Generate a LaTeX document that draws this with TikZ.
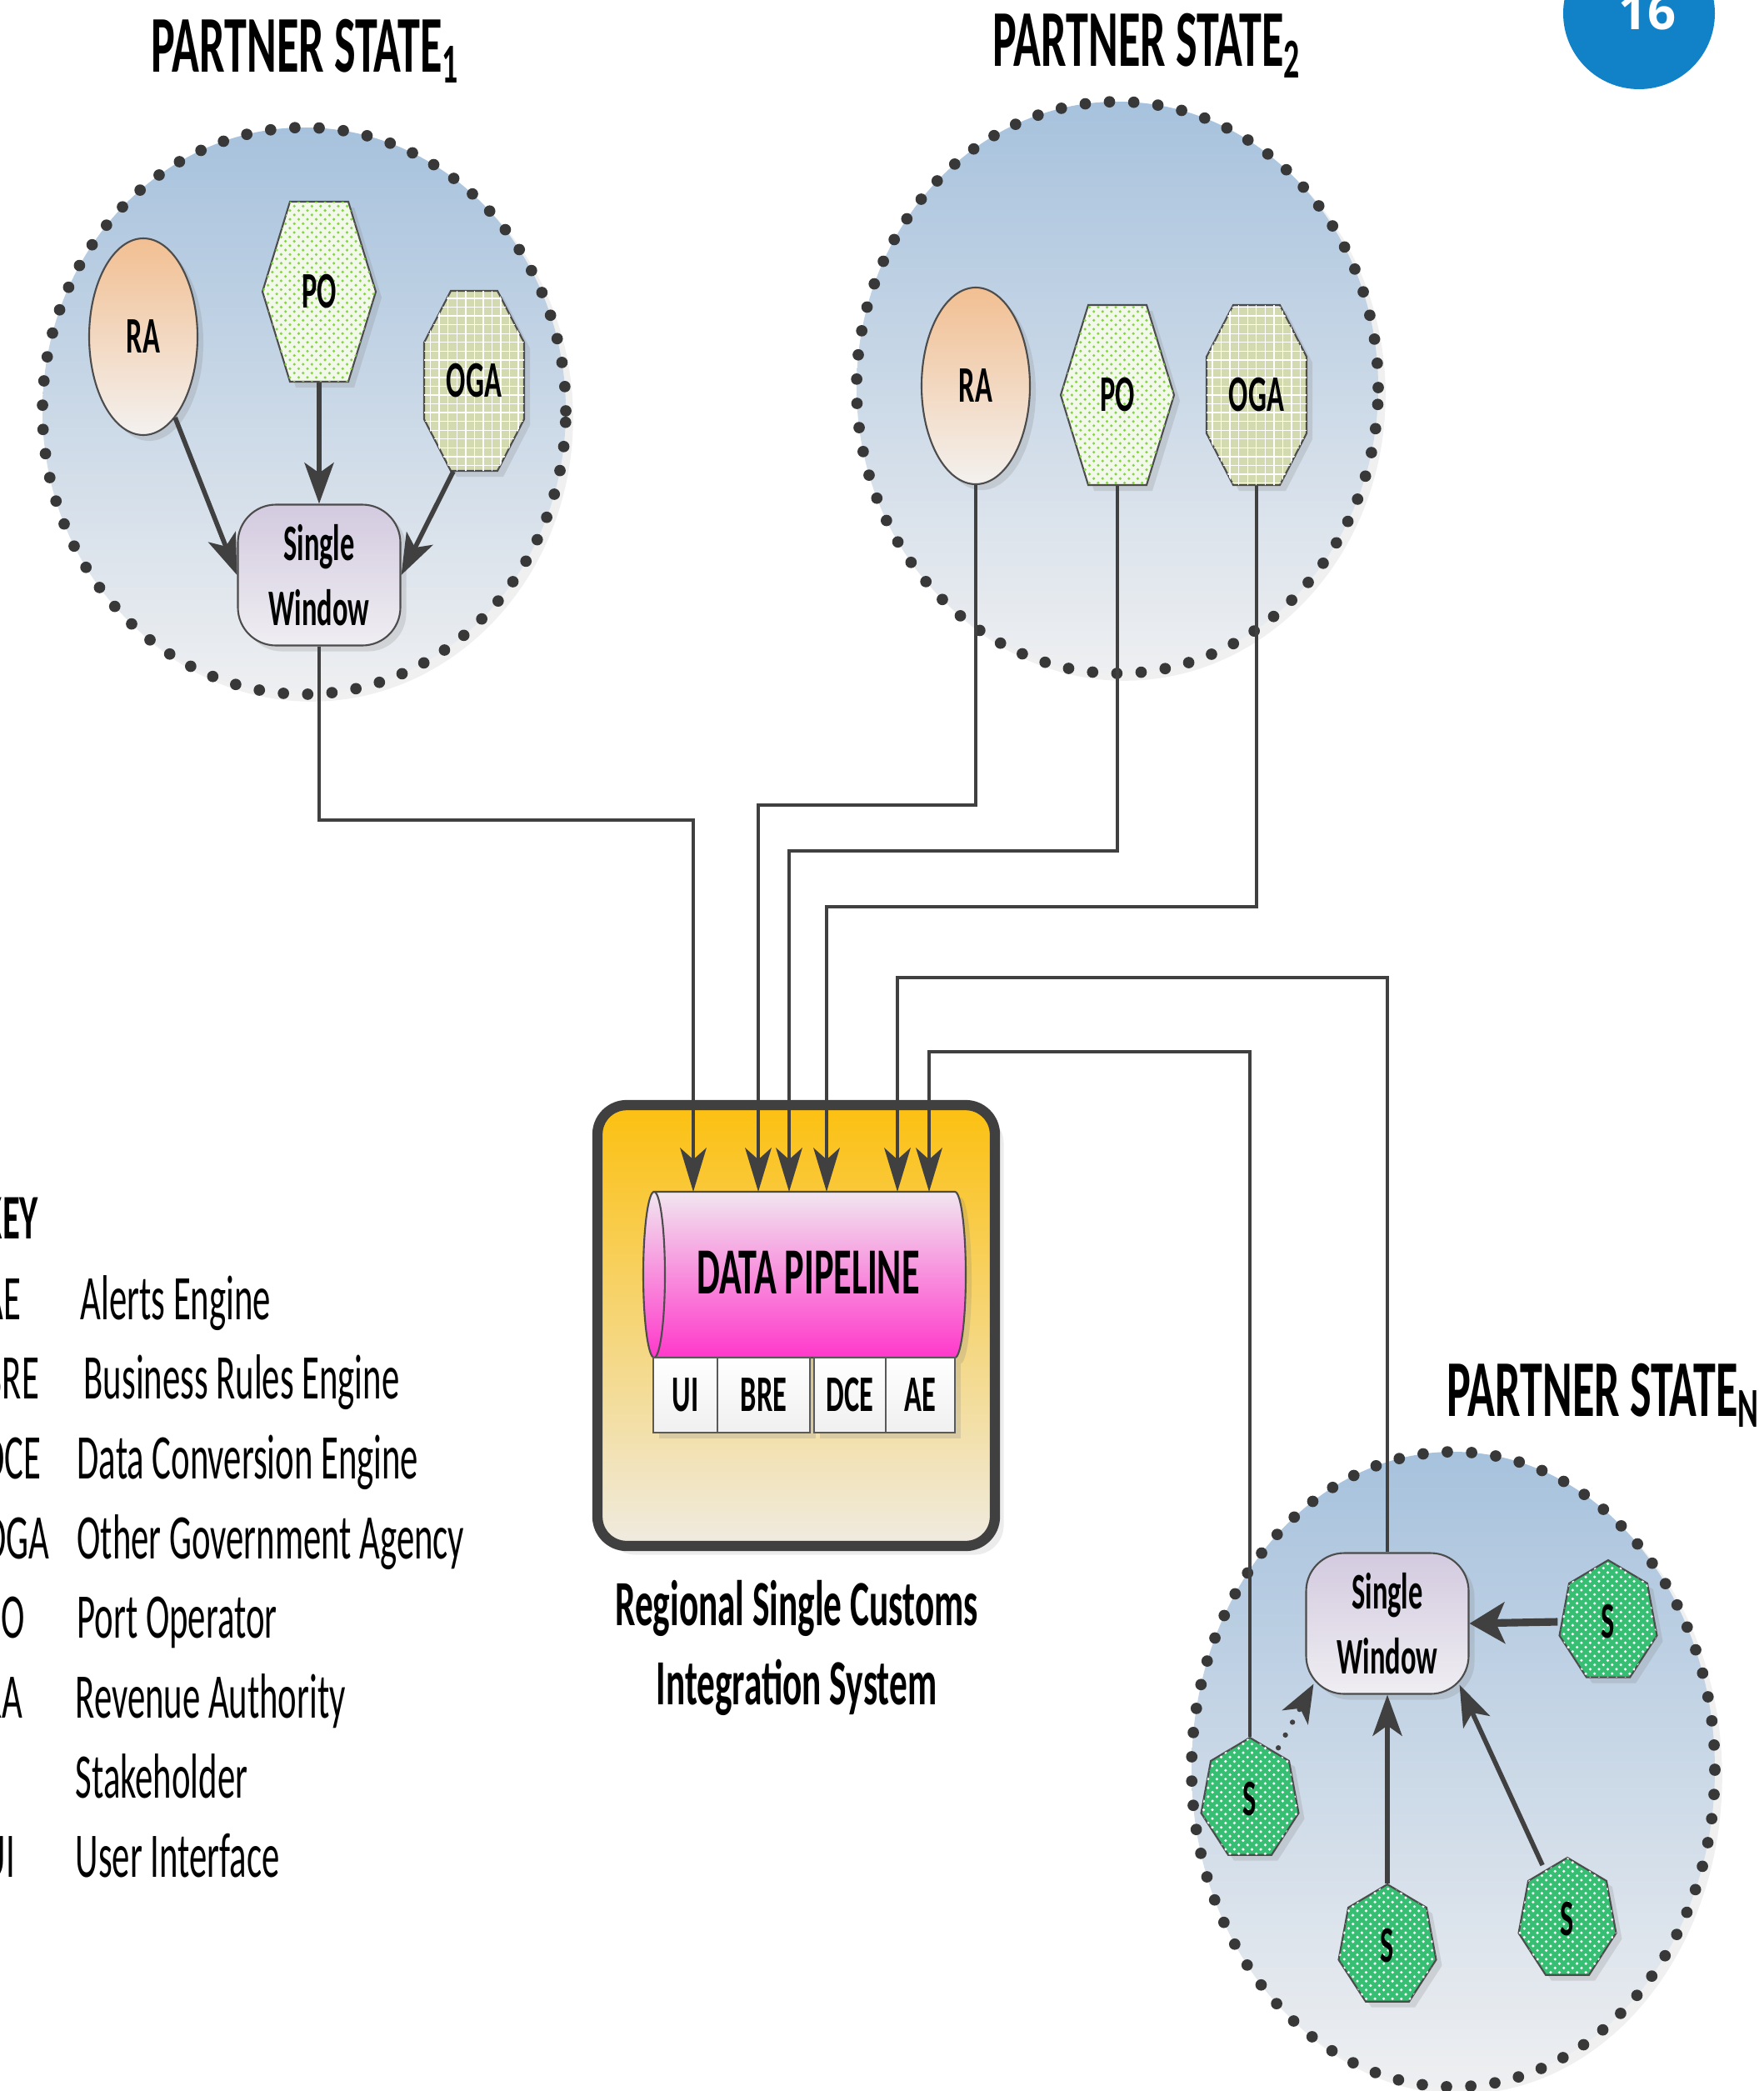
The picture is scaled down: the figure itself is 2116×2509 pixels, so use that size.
\documentclass[tikz,border=0pt]{standalone}
\usepackage{fontspec}
\setmainfont{Carlito}[FakeStretch=0.56]
\newfontfamily\badgefont{Open Sans}
\usetikzlibrary{shapes.geometric,arrows.meta,shadows,patterns,calc}

\definecolor{linec}{HTML}{404040}
\definecolor{dotc}{HTML}{383838}
\definecolor{stTop}{HTML}{A7C2DD}
\definecolor{stBot}{HTML}{EEEFF1}
\definecolor{raTop}{HTML}{F2BF92}
\definecolor{raBot}{HTML}{F3F1EF}
\definecolor{swTop}{HTML}{D3CADF}
\definecolor{swBot}{HTML}{EFEEF2}
\definecolor{poBg}{HTML}{F2F8EA}
\definecolor{poDot}{HTML}{86D544}
\definecolor{ogaBg}{HTML}{D3DAB0}
\definecolor{sGreen}{HTML}{36BE72}
\definecolor{boxTop}{HTML}{FCC010}
\definecolor{boxBot}{HTML}{EFEBE1}
\definecolor{pipeTop}{HTML}{F1E6F0}
\definecolor{pipeBot}{HTML}{FF38CA}
\definecolor{badgec}{HTML}{1181C8}

\newcommand{\titlefont}{\bfseries\fontsize{27.5}{31}\selectfont}
\newcommand{\nodefont}{\bfseries\fontsize{17.5}{22}\selectfont}
\newcommand{\pipefont}{\bfseries\fontsize{22.5}{26}\selectfont}
\newcommand{\cellfont}{\bfseries\fontsize{17.5}{20}\selectfont}
\newcommand{\capfont}{\bfseries\fontsize{22}{27}\selectfont}
\newcommand{\keyfont}{\fontsize{21.7}{26}\selectfont}

\tikzset{softshadow/.style={drop shadow={shadow xshift=2pt,shadow yshift=-2pt,opacity=0.22}}}
\tikzset{statefill/.style={draw=dotc,line width=3.9pt,dash pattern=on 0pt off 8.3pt,line cap=round,top color=stTop,bottom color=stBot,drop shadow={shadow xshift=2.5pt,shadow yshift=-2.5pt,opacity=0.12}},
  title/.style={font=\titlefont,inner sep=0pt},
  plain/.style={inner sep=0pt,font=\nodefont},
  ra/.style={ellipse,draw=gray!60!black,line width=0.6pt,minimum width=1.3cm,minimum height=2.36cm,inner sep=0pt,top color=raTop,bottom color=raBot,softshadow,font=\nodefont},
  win/.style={rectangle,rounded corners=13pt,draw=gray!60!black,line width=0.6pt,minimum width=1.95cm,minimum height=1.69cm,inner sep=0pt,top color=swTop,bottom color=swBot,softshadow,align=center,font=\nodefont},
  pofill/.style={draw=gray!60!black,line width=0.6pt,fill=poBg,postaction={pattern=crosshatch dots,pattern color=poDot},softshadow},
  ogafill/.style={draw=gray!60!black,line width=0.6pt,fill=ogaBg,postaction={pattern=grid,pattern color=white},softshadow},
  sfill/.style={draw=gray!60!black,line width=0.6pt,fill=sGreen,postaction={pattern=crosshatch dots,pattern color=white},softshadow},
  stake/.style={ellipse,minimum width=1.2cm,minimum height=1.48cm,inner sep=0pt,font=\nodefont},
  rscbox/.style={rectangle,rounded corners=10pt,draw=linec,line width=3.5pt,minimum width=4.77cm,minimum height=5.29cm,top color=boxTop,bottom color=boxBot,drop shadow={shadow xshift=3pt,shadow yshift=-3pt,opacity=0.15}},
  pipe/.style={draw=gray!60!black,line width=0.6pt,top color=pipeTop,bottom color=pipeBot,softshadow},
  cell/.style={rectangle,draw=gray!70!black,line width=0.6pt,top color=white,bottom color=gray!12,minimum height=0.9cm,inner sep=0pt,font=\cellfont,softshadow},
  link/.style={draw=linec,line width=0.9pt,-{Stealth[length=15pt,width=9pt,inset=4pt]}},
  feed/.style={draw=linec,line width=1.6pt,-{Stealth[length=14pt,width=10pt,inset=3.5pt]}},
  feedthick/.style={draw=linec,line width=2.6pt,-{Stealth[length=12pt,width=14pt,inset=3pt]}},
  dotlink/.style={draw=linec,line width=1.8pt,dash pattern=on 0pt off 5pt,line cap=round,-{Stealth[length=13pt,width=10pt,inset=3.5pt]}},
  keytext/.style={font=\keyfont,inner sep=0pt}}

% polygon stakeholders: name, x, y, text
\newcommand{\hexnode}[4]{%
  \begin{scope}[shift={(#2,#3)}]
    \path[pofill] (-68,0) -- (-35,108) -- (35,108) -- (68,0) -- (35,-108) -- (-35,-108) -- cycle;
    \node[plain,minimum width=1.36cm,minimum height=2.16cm] (#1) at (0,0) {#4};
  \end{scope}}
\newcommand{\octnode}[4]{%
  \begin{scope}[shift={(#2,#3)}]
    \path[ogafill] (-28,108) -- (28,108) -- (60,46) -- (60,-46) -- (28,-108) -- (-28,-108) -- (-60,-46) -- (-60,46) -- cycle;
    \node[plain,minimum width=1.2cm,minimum height=2.16cm] (#1) at (0,0) {#4};
  \end{scope}}
\newcommand{\snode}[3]{%
  \begin{scope}[shift={(#2,#3)}]
    \path[sfill] (90:60 and 74) \foreach \k in {1,...,6}{ -- ({90+\k*360/7}:60 and 74)} -- cycle;
    \node[stake] (#1) at (0,0) {S};
  \end{scope}}

\begin{document}
\begin{tikzpicture}[x=0.1mm,y=0.1mm]
\useasboundingbox (0,0) rectangle (2116,-2509);

% page badge
\node[circle,fill=badgec,minimum size=1.82cm,inner sep=0pt] (badge) at (1967,-16) {};
\node[anchor=base,text=white,inner sep=0pt,font=\badgefont\bfseries\fontsize{17}{20}\selectfont] (pagenum) at (1977,-35) {16};

% partner state 1
\path[statefill] (365,-493) ellipse [x radius=314, y radius=340];
\node[title,anchor=base west] (ps1) at (181,-86) {PARTNER STATE\textsubscript{1}};
\node[ra] (ra1) at (172,-404) {RA};
\hexnode{po1}{383}{-350}{PO}
\octnode{oga1}{569}{-457}{OGA}
\node[win] (sw1) at (383,-690) {Single\\Window};
\draw[feed] (ra1) -- (sw1.west);
\draw[feed] (po1.south) -- (sw1.north);
\draw[feed] ($(oga1.south)+(-25,0)$) -- (sw1.east);

% partner state 2
\path[statefill] (1341,-465) ellipse [x radius=313, y radius=343];
\node[title,anchor=base west] (ps2) at (1191,-79) {PARTNER STATE\textsubscript{2}};
\node[ra] (ra2) at (1171,-463) {RA};
\hexnode{po2}{1341}{-474}{PO}
\octnode{oga2}{1508}{-474}{OGA}

% partner state N
\path[statefill] (1744,-2123) ellipse [x radius=314, y radius=381];
\node[title,anchor=base west] (psn) at (1736,-1699) {PARTNER STATE\textsubscript{N}};
\node[win] (swn) at (1665,-1948) {Single\\Window};
\snode{sr}{1930}{-1946}
\snode{sl}{1500}{-2159}
\snode{sb}{1665}{-2335}
\snode{sbr}{1881}{-2303}
\draw[feedthick] (sr.west) -- (swn.east);
\draw[feed] (sb.north) -- (swn.south);
\draw[feed] (sbr) -- ([shift={(-12,12)}]swn.south east);
\draw[dotlink] (sl) -- ([shift={(10,13)}]swn.south west);

% regional single customs integration system
\node[rscbox] (rsc) at (955.5,-1590.5) {};
\path[pipe] (785,-1430) -- (1146,-1430) arc[start angle=90,end angle=-90,x radius=13,y radius=99.5]
  -- (785,-1629) arc[start angle=270,end angle=90,x radius=13,y radius=99.5] -- cycle;
\draw[draw=gray!60!black,line width=0.6pt] (785,-1430) arc[start angle=90,end angle=-90,x radius=13,y radius=99.5];
\node[anchor=base,font=\pipefont,inner sep=0pt] (pipeline) at (970,-1552) {DATA PIPELINE};
\node[cell,minimum width=0.77cm] (ui) at (822.5,-1674) {UI};
\node[cell,minimum width=1.11cm] (bre) at (916.5,-1674) {BRE};
\node[cell,minimum width=0.86cm] (dce) at (1020,-1674) {DCE};
\node[cell,minimum width=0.83cm] (ae) at (1104.5,-1674) {AE};
\node[anchor=base,font=\capfont,inner sep=0pt] (cap1) at (956,-1950) {Regional Single Customs};
\node[anchor=base,font=\capfont,inner sep=0pt] (cap2) at (956,-2045) {Integration System};

\coordinate (pin1) at (832,-1430);
\coordinate (pin2) at (910,-1430);
\coordinate (pin3) at (947,-1430);
\coordinate (pin4) at (992,-1430);
\coordinate (pin5) at (1077,-1430);
\coordinate (pin6) at (1115,-1430);

% feeds into the pipeline
\draw[link] (sw1.south) |- (832,-984) -- (pin1);
\draw[link] (ra2.south) |- (910,-966) -- (pin2);
\draw[link] (po2.south) |- (947,-1021) -- (pin3);
\draw[link] (oga2.south) |- (992,-1088) -- (pin4);
\draw[link] (swn.north) |- (1077,-1173) -- (pin5);
\draw[link] (sl.north) |- (1115,-1262) -- (pin6);

% key
\node[keytext,font=\keyfont\bfseries,anchor=base west] (key) at (-21,-1486) {KEY};
\foreach \ab/\row in {AE/0,BRE/1,DCE/2,OGA/3,PO/4,RA/5,UI/7}
  \node[keytext,anchor=base west] (ab-\ab) at (-21,{-1583-\row*95.7}) {\ab};
\foreach \txt/\tx/\row in {Alerts Engine/96/0,Business Rules Engine/100/1,Data Conversion Engine/92/2,Other Government Agency/92/3,Port Operator/92/4,Revenue Authority/90/5,Stakeholder/90/6,User Interface/90/7}
  \node[keytext,anchor=base west] (txt-\row) at (\tx,{-1583-\row*95.7}) {\txt};
\end{tikzpicture}
\end{document}
